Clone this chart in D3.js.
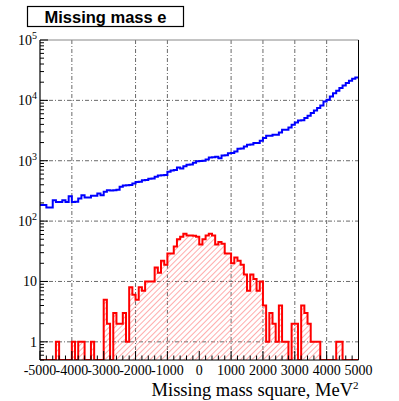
<!DOCTYPE html>
<html><head><meta charset="utf-8">
<script src="https://cdn.jsdelivr.net/npm/d3@7"></script>
<style>body{margin:0;background:#fff}</style>
</head><body>
<svg id="c" width="399" height="401"></svg>
<script>
const title = "Missing mass e";
const xTitle = "Missing mass square, MeV";
const xMin = -5000, xMax = 5000, nBins = 100;
const xTickValues = [-5000,-4000,-3000,-2000,-1000,0,1000,2000,3000,4000,5000];
const xGridValues = [-4000,-2000,-1000,1000,2000,3000,4000];
const yDecades = [1,10,100,1000,10000,100000];
const yTickLabels = ["1","10","10^2","10^3","10^4","10^5"];

const blueCounts = [
184,184,168,168,222,208,208,222,208,259,
208,210,237,269,246,246,262,262,287,269,
305,325,320,325,330,370,390,394,398,420,
445,450,475,480,505,510,542,570,577,580,
655,690,700,773,745,813,860,870,924,980,
990,1000,1050,1132,1140,1161,1104,1222,1230,1336,
1340,1425,1577,1590,1725,1836,1850,1959,1975,2142,
2372,2590,2600,2692,2700,2943,3258,3270,3566,3945,
4314,4656,4680,5087,5560,6150,6820,7450,8260,9620,
10230,11640,13060,14450,15990,17690,19360,21170,22850,24030];

const redCounts = [
0,0,0,0,0,1,0,0,0,0,
1,0,1,1,0,0,1,0,0,0,
5,2,0,3,2,2,3,1,8,6,
5,8,7,10,10,10,17,14,22,19,
29,29,38,50,55,62,58,58,57,55,
41,50,58,62,58,41,45,42,29,29,
20,25,22,19,13,7,13,11,7,10,
4,1,3,2,1,4,1,1,0,2,
2,0,4,3,2,1,1,1,0,0,
0,0,0,1,1,0,0,0,0,0];

const L = 40, R = 358.5, T = 40, B = 360;
const svg = d3.select("#c");
const x = d3.scaleLinear().domain([xMin, xMax]).range([L, R]);
const y = d3.scaleLog().domain([0.5, 1e5]).range([B, T]);
const bw = (xMax - xMin) / nBins;

const defs = svg.append("defs");
const pat = defs.append("pattern").attr("id","hatch").attr("patternUnits","userSpaceOnUse")
  .attr("width",4).attr("height",4).attr("patternTransform","rotate(45)");
pat.append("line").attr("x1",0).attr("y1",0).attr("x2",0).attr("y2",4)
  .attr("stroke","#ff7f7f").attr("stroke-width",1.3);
defs.append("clipPath").attr("id","clip").append("rect")
  .attr("x",L).attr("y",T).attr("width",R-L).attr("height",B-T);

const gridStyle = g => g.attr("stroke","#444").attr("stroke-width",0.8).attr("stroke-dasharray","4,2,1,2");
svg.append("g").selectAll("line").data(xGridValues).join("line")
  .attr("x1",d=>x(d)).attr("x2",d=>x(d)).attr("y1",T).attr("y2",B).call(gridStyle);
svg.append("g").selectAll("line").data(yDecades.slice(0,5)).join("line")
  .attr("x1",L).attr("x2",R).attr("y1",d=>y(d)).attr("y2",d=>y(d)).call(gridStyle);

function stepPts(counts){
  const pts = [];
  counts.forEach((c,i)=>{
    const v = Math.max(c, 0.5);
    pts.push([x(xMin+i*bw), y(v)]);
    pts.push([x(xMin+(i+1)*bw), y(v)]);
  });
  return pts;
}
const line = d3.line();
const plot = svg.append("g").attr("clip-path","url(#clip)");

const rp = stepPts(redCounts);
const area = [[x(xMin), y(0.5)], ...rp, [x(xMax), y(0.5)]];
plot.append("path").attr("d", line(area)+"Z").attr("fill","url(#hatch)").attr("stroke","none");
plot.append("path").attr("d", line(area)).attr("fill","none").attr("stroke","#ff0000").attr("stroke-width",2);

plot.append("path").attr("d", line(stepPts(blueCounts))).attr("fill","none")
  .attr("stroke","#0000ff").attr("stroke-width",2);

svg.append("line").attr("x1",L).attr("x2",R).attr("y1",T).attr("y2",T).attr("stroke","#888").attr("stroke-width",1);
svg.append("line").attr("x1",R).attr("x2",R).attr("y1",T).attr("y2",B).attr("stroke","#000").attr("stroke-width",1);
svg.append("line").attr("x1",L).attr("x2",L).attr("y1",T).attr("y2",B).attr("stroke","#000").attr("stroke-width",1.2);
svg.append("line").attr("x1",L).attr("x2",R).attr("y1",B).attr("y2",B).attr("stroke","#000").attr("stroke-width",1);

const yMinor = [];
for (let d=-1; d<=4; d++) for (let k=1;k<=9;k++){ const v=k*Math.pow(10,d); if(v>=0.5 && v<=1e5) yMinor.push(v); }
yMinor.push(1e5);
svg.append("g").selectAll("line").data(yMinor).join("line")
  .attr("x1",L).attr("x2",d=>L+(yDecades.includes(d)?8:4)).attr("y1",d=>y(d)).attr("y2",d=>y(d))
  .attr("stroke","#000").attr("stroke-width",1);

const xMinor = d3.range(xMin, xMax+1, 200);
svg.append("g").selectAll("line").data(xMinor).join("line")
  .attr("x1",d=>x(d)).attr("x2",d=>x(d)).attr("y1",B).attr("y2",d=>B-(d%1000===0?9:4.5))
  .attr("stroke","#000").attr("stroke-width",1);

const serif = "'Liberation Serif','Times New Roman',serif";
svg.append("g").selectAll("text").data(xTickValues).join("text")
  .attr("x",d=>x(d)).attr("y",375).attr("text-anchor","middle")
  .attr("font-family",serif).attr("font-size",14).attr("fill","#000").text(d=>d);

const yl = svg.append("g");
yDecades.forEach((d,i)=>{
  const lab = yTickLabels[i];
  const t = yl.append("text").attr("x",37).attr("y",y(d)+5).attr("text-anchor","end")
    .attr("font-family",serif).attr("font-size",14).attr("fill","#000");
  if (lab.includes("^")) {
    const [b,e] = lab.split("^");
    t.append("tspan").text(b);
    t.append("tspan").attr("dy",-6).attr("font-size",10).text(e);
  } else t.text(lab);
});

const xt = svg.append("text").attr("x",R).attr("y",395.5).attr("text-anchor","end")
  .attr("font-family",serif).attr("font-size",18.5).attr("fill","#000");
xt.append("tspan").text(xTitle);
xt.append("tspan").attr("dy",-7).attr("font-size",11).text("2");

svg.append("rect").attr("x",27.5).attr("y",6.5).attr("width",156).attr("height",20)
  .attr("fill","#fff").attr("stroke","#000").attr("stroke-width",1.2);
svg.append("text").attr("x",105.5).attr("y",22.5).attr("text-anchor","middle")
  .attr("font-family","'Liberation Sans',Arial,sans-serif").attr("font-weight","bold")
  .attr("font-size",16.5).attr("fill","#000").text(title);
</script>
</body></html>
